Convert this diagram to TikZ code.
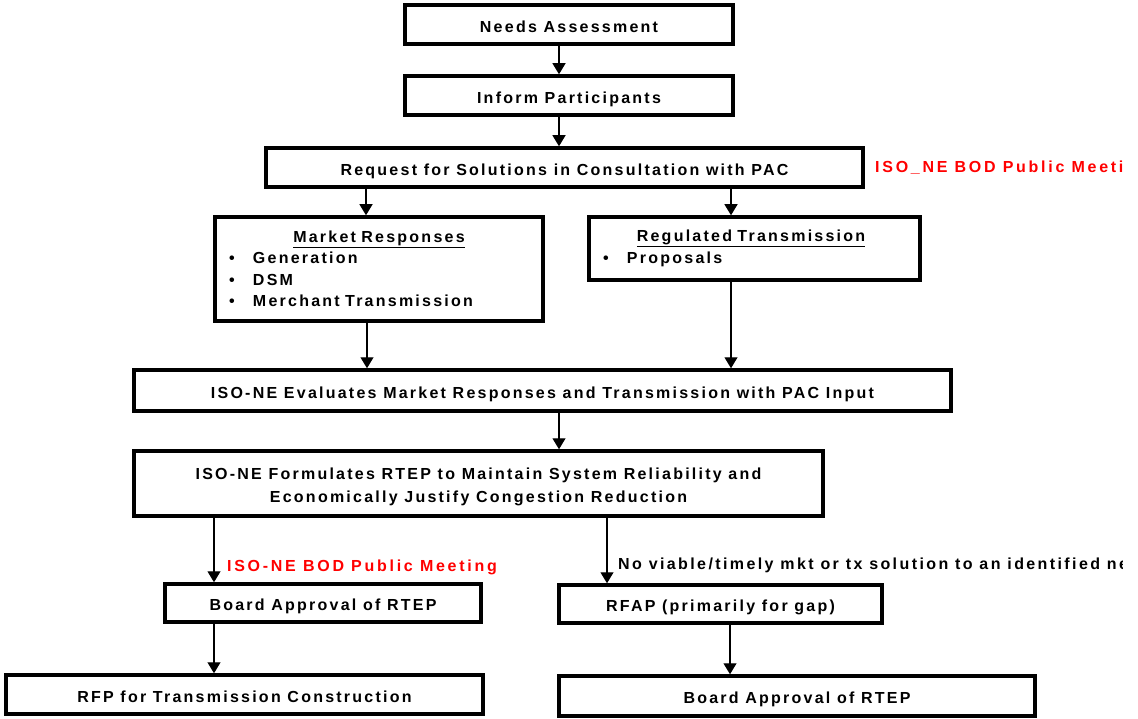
\documentclass[tikz,border=0pt]{standalone}
\usepackage{fontspec}
\setmainfont{Liberation Sans}[LetterSpace=14]
\usetikzlibrary{arrows.meta}

\tikzset{
  stage/.style={draw, line width=3.5pt, align=center, inner sep=0pt},
  single/.style={stage, text height=15.5, text depth=0},
  listbox/.style={stage, align=left, inner xsep=14pt},
  flowarrow/.style={line width=1.2pt, -{Triangle[length=11pt,width=13pt]}},
  note/.style={anchor=west, inner sep=0pt, font=\fontsize{16}{21.5}\selectfont\bfseries\addfontfeature{LetterSpace=17}}
}
\newcommand{\listbullet}{\makebox[24pt][l]{\textbullet}}

\begin{document}
\begin{tikzpicture}[x=1pt,y=-1pt,font=\fontsize{16}{21.5}\selectfont\bfseries]
\useasboundingbox (0,0) rectangle (1138,719);
\clip (0,0) rectangle (1122,719);
% upper chain
\node[single, minimum width=328, minimum height=39] (needs) at (569,24.5) {Needs Assessment};
\node[single, minimum width=328, minimum height=39] (inform) at (569,95.5) {Inform Participants};
\node[single, minimum width=597, minimum height=39] (request) at (564.5,167.5) {Request for Solutions in Consultation with PAC};
\node[note, text=red] (bod1) at (875,168) {ISO\_NE BOD Public Meeting};
% responses
\node[listbox, text width=300, minimum height=104] (market) at (379,269)
  {\makebox[300pt]{\underline{Market Responses}}\\
   \listbullet Generation\\
   \listbullet DSM\\
   \listbullet Merchant Transmission};
\node[listbox, text width=303, minimum height=63] (regulated) at (754.5,248.5)
  {\makebox[296pt]{\underline{Regulated Transmission}}\\
   \listbullet Proposals};
% evaluation
\node[single, minimum width=817, minimum height=41] (evaluate) at (542.5,390.5) {ISO-NE Evaluates Market Responses and Transmission with PAC Input};
\node[stage, minimum width=689, minimum height=65, text height=40, text depth=2] (formulate) at (478.5,483.5)
  {ISO-NE Formulates RTEP to Maintain System Reliability and\\[2pt]Economically Justify Congestion Reduction};
% lower branches
\node[single, minimum width=316, minimum height=38] (approve) at (323,603) {Board Approval of RTEP};
\node[single, minimum width=323, minimum height=38] (rfap) at (720.5,604) {RFAP (primarily for gap)};
\node[single, minimum width=477, minimum height=39] (rfp) at (244.5,694.5) {RFP for Transmission Construction};
\node[single, minimum width=476, minimum height=40] (approve2) at (797,696) {Board Approval of RTEP};
\node[note, text=red] (bod2) at (227,567) {ISO-NE BOD Public Meeting};
\node[note, font=\fontsize{16}{21.5}\selectfont\bfseries\addfontfeature{LetterSpace=15}] (noviable) at (618,565) {No viable/timely mkt or tx solution to an identified need};
% arrows
\draw[flowarrow] (needs.south -| 559,0) -- (inform.north -| 559,0);
\draw[flowarrow] (inform.south -| 559,0) -- (request.north -| 559,0);
\draw[flowarrow] (request.south -| 366,0) -- (market.north -| 366,0);
\draw[flowarrow] (request.south -| 731,0) -- (regulated.north -| 731,0);
\draw[flowarrow] (market.south -| 367,0) -- (evaluate.north -| 367,0);
\draw[flowarrow] (regulated.south -| 731,0) -- (evaluate.north -| 731,0);
\draw[flowarrow] (evaluate.south -| 559,0) -- (formulate.north -| 559,0);
\draw[flowarrow] (formulate.south -| 214,0) -- (approve.north -| 214,0);
\draw[flowarrow] (formulate.south -| 607,0) -- (rfap.north -| 607,0);
\draw[flowarrow] (approve.south -| 214,0) -- (rfp.north -| 214,0);
\draw[flowarrow] (rfap.south -| 730,0) -- (approve2.north -| 730,0);
\end{tikzpicture}
\end{document}
